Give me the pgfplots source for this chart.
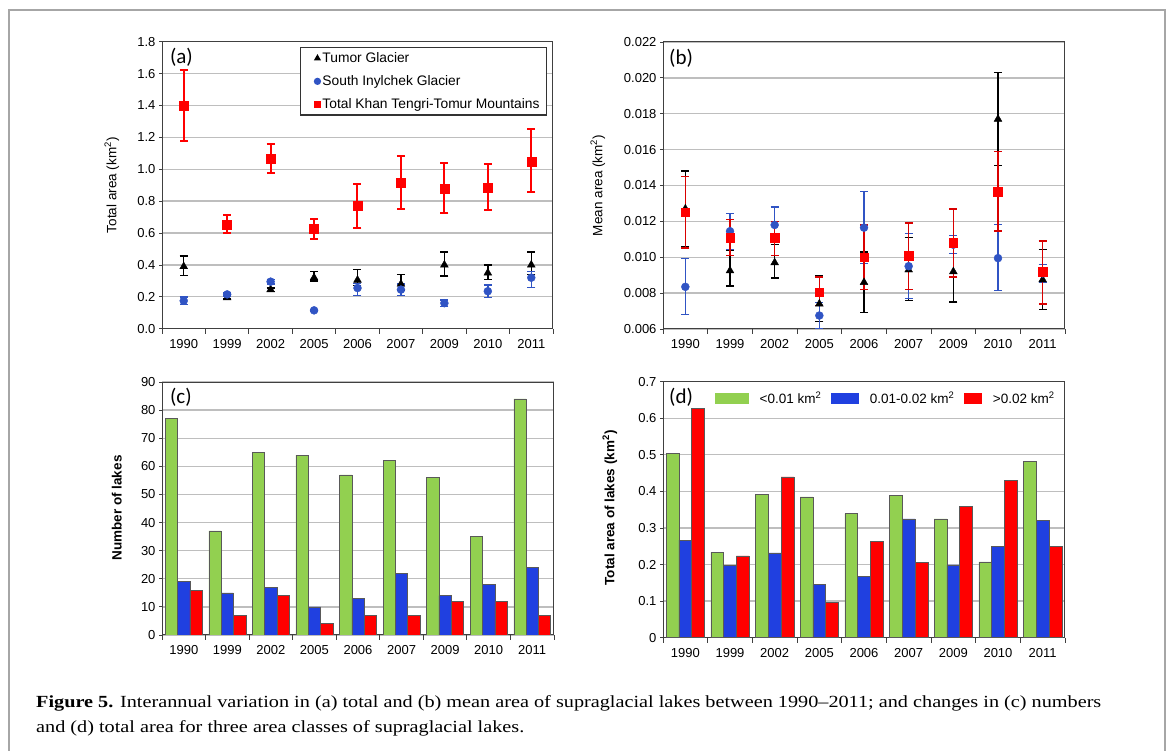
\documentclass[border=0pt]{standalone}
\usepackage{fontspec}
\setmainfont{Liberation Serif}
\newfontfamily\arial{Liberation Sans}
\newfontfamily\calibri{Carlito}
\newfontfamily\capfont[FakeStretch=1.19,Ligatures=TeX]{Liberation Serif}
\usepackage{pgfplots}
\usepackage{pgfplotstable}
\pgfplotsset{compat=1.18}
\definecolor{gbar}{RGB}{146,208,80}
\definecolor{bbar}{RGB}{32,64,224}
\definecolor{rbar}{RGB}{255,0,0}
\definecolor{cblue}{RGB}{48,84,196}
\definecolor{gridc}{RGB}{190,190,190}

% panel (a): total area
\pgfplotstableread{
x y ep em
0 0.39 0.065 0.055
1 0.195 0.01 0.01
2 0.245 0.01 0.01
3 0.32 0.04 0.02
4 0.305 0.065 0.035
5 0.28 0.06 0.04
6 0.40 0.08 0.07
7 0.35 0.05 0.04
8 0.40 0.08 0.06
}\aBlack
\pgfplotstableread{
x y ep em
0 0.175 0.025 0.025
1 0.215 0.01 0.01
2 0.295 0.015 0.015
3 0.115 0.005 0.005
4 0.255 0.03 0.045
5 0.245 0.035 0.035
6 0.16 0.02 0.02
7 0.235 0.04 0.04
8 0.32 0.04 0.06
}\aBlue
\pgfplotstableread{
x y ep em
0 1.40 0.22 0.225
1 0.655 0.06 0.055
2 1.065 0.095 0.09
3 0.625 0.065 0.065
4 0.77 0.14 0.14
5 0.915 0.17 0.165
6 0.88 0.16 0.155
7 0.885 0.145 0.14
8 1.05 0.205 0.195
}\aRed
% panel (b): mean area
\pgfplotstableread{
x y ep em
0 0.0127 0.0021 0.0021
1 0.00925 0.00115 0.00085
2 0.0097 0.001 0.00085
3 0.0074 0.0016 0.0010
4 0.0086 0.0017 0.0017
5 0.0093 0.0018 0.0017
6 0.0092 0.0017 0.0017
7 0.0177 0.0026 0.0026
8 0.00875 0.0017 0.00165
}\bBlack
\pgfplotstableread{
x y ep em
0 0.00835 0.0016 0.00155
1 0.01145 0.001 0.001
2 0.0118 0.001 0.001
3 0.00675 0.00075 0.00075
4 0.01165 0.002 0.002
5 0.0095 0.0018 0.0018
6 0.0107 0.0005 0.0005
7 0.00995 0.0019 0.0018
8 0.0091 0.0005 0.0005
}\bBlue
\pgfplotstableread{
x y ep em
0 0.0125 0.002 0.002
1 0.0111 0.001 0.001
2 0.0111 0.0009 0.001
3 0.00805 0.00085 0.00075
4 0.0100 0.0018 0.0018
5 0.0101 0.0018 0.0019
6 0.0108 0.0019 0.0019
7 0.01365 0.00225 0.0022
8 0.0092 0.0017 0.0018
}\bRed
% panel (c): number of lakes
\pgfplotstableread{
x small mid large
0 77 19 16
1 37 15 7
2 65 17 14
3 64 10 4
4 57 13 7
5 62 22 7
6 56 14 12
7 35 18 12
8 84 24 7
}\cData
% panel (d): total area of lakes
\pgfplotstableread{
x small mid large
0 0.503 0.267 0.628
1 0.234 0.198 0.224
2 0.392 0.232 0.440
3 0.385 0.146 0.096
4 0.339 0.167 0.263
5 0.389 0.325 0.205
6 0.325 0.199 0.359
7 0.207 0.249 0.430
8 0.482 0.320 0.250
}\dData

\pgfplotsset{
 panel/.style={
   scale only axis,
   xmin=-0.5, xmax=8.5,
   xtick={0,...,8},
   xticklabels={1990,1999,2002,2005,2006,2007,2009,2010,2011},
   minor xtick={-0.5,0.5,...,8.5},
   tick align=outside,
   tick pos=left,
   major x tick style={draw=none},
   ytick style={black!75, line width=0.8pt},
   minor tick style={black!75, line width=0.8pt},
   major tick length=3pt,
   minor tick length=5pt,
   ymajorgrids,
   major grid style={gridc, line width=1.3pt},
   axis line style={black!75, line width=1pt},
   tick label style={font=\arial\fontsize{13}{15}\selectfont},
   /pgf/number format/assume math mode=true,
   scaled y ticks=false,
   xticklabel style={yshift=-4pt},
 },
 ylab/.style n args={2}{every axis y label/.style={at={(axis description cs:#1,#2)},
   rotate=90, anchor=center, font=\arial\fontsize{13.5}{15}\selectfont}},
 ebar/.style={error bars/.cd, y dir=both, y explicit,
   error bar style={line width=#1},
   error mark options={rotate=90, mark size=4pt, line width=#1}},
}
\tikzset{plabel/.style={font=\calibri\fontsize{21}{21}\selectfont, anchor=west, inner sep=0pt}}

\begin{document}
\begin{tikzpicture}
\useasboundingbox (0,0) rectangle (1171pt,751pt);
\draw[black!35, line width=2pt] (9pt,-10pt) rectangle (1165pt,741pt);

% ---------- (a)
\begin{axis}[panel, at={(162pt,422.3pt)}, anchor=south west,
  width=391pt, height=287pt,
  ymin=0, ymax=1.8, ytick={0,0.2,0.4,0.6,0.8,1.0,1.2,1.4,1.6,1.8},
  yticklabel style={/pgf/number format/.cd, fixed, fixed zerofill, precision=1},
  ylabel={Total area (km\textsuperscript{2})},
  ylab={-0.128}{0.5},
  legend style={at={(axis description cs:0.985,0.9815)}, anchor=north east,
    draw=black!80, line width=1.2pt, fill=white,
    font=\arial\fontsize{13.8}{15}\selectfont, row sep=7.5pt,
    inner xsep=5pt, inner ysep=3pt},
  legend cell align=left,
  legend image code/.code={\path (-3pt,0pt); \draw[#1, mark size=3pt] plot coordinates {(8pt,0pt)};},
]
\addplot[only marks, mark=triangle*, mark size=4.5pt, black,
  ebar=1.4pt] table[x=x, y=y, y error plus=ep, y error minus=em] {\aBlack};
\addlegendentry{Tumor Glacier}
\addplot[only marks, mark=*, mark size=4pt, cblue,
  ebar=1.4pt] table[x=x, y=y, y error plus=ep, y error minus=em] {\aBlue};
\addlegendentry{South Inylchek Glacier}
\addplot[only marks, mark=square*, mark size=4.5pt, rbar,
  ebar=2pt] table[x=x, y=y, y error plus=ep, y error minus=em] {\aRed};
\addlegendentry{Total Khan Tengri-Tomur Mountains}
\node[plabel] at (axis description cs:0.02,0.947) {(a)};
\end{axis}

% ---------- (b)
\begin{axis}[panel, at={(663pt,422pt)}, anchor=south west,
  width=402pt, height=287pt,
  ymin=0.006, ymax=0.022,
  ytick={0.006,0.008,0.010,0.012,0.014,0.016,0.018,0.020,0.022},
  yticklabel style={/pgf/number format/.cd, fixed, fixed zerofill, precision=3},
  ylabel={Mean area (km\textsuperscript{2})},
  ylab={-0.162}{0.5},
]
\addplot[only marks, mark=triangle*, mark size=4.5pt, black,
  ebar=1.3pt] table[x=x, y=y, y error plus=ep, y error minus=em] {\bBlack};
\addplot[only marks, mark=*, mark size=4pt, cblue,
  ebar=1.1pt] table[x=x, y=y, y error plus=ep, y error minus=em] {\bBlue};
\addplot[only marks, mark=square*, mark size=4.3pt, rbar!85!black,
  mark options={fill=rbar, draw=rbar},
  ebar=1.6pt] table[x=x, y=y, y error plus=ep, y error minus=em] {\bRed};
\node[plabel] at (axis description cs:0.015,0.944) {(b)};
\end{axis}

% ---------- (c)
\begin{axis}[panel, at={(162pt,116pt)}, anchor=south west,
  width=392pt, height=253pt,
  ybar=0pt, bar width=12.3pt,
  ymin=0, ymax=90, ytick={0,10,20,30,40,50,60,70,80,90},
  ylabel={\bfseries Number of lakes},
  ylab={-0.115}{0.502},
]
\addplot[fill=gbar, draw=black!65, line width=0.5pt] table[x=x, y=small] {\cData};
\addplot[fill=bbar, draw=black!65, line width=0.5pt] table[x=x, y=mid] {\cData};
\addplot[fill=rbar, draw=black!65, line width=0.5pt] table[x=x, y=large] {\cData};
\node[plabel] at (axis description cs:0.02,0.94) {(c)};
\end{axis}

% ---------- (d)
\begin{axis}[panel, at={(663pt,113.3pt)}, anchor=south west,
  width=402pt, height=256pt,
  ybar=0pt, bar width=12.8pt,
  ymin=0, ymax=0.7, ytick={0,0.1,0.2,0.3,0.4,0.5,0.6,0.7},
  yticklabel style={/pgf/number format/.cd, fixed, precision=1},
  ylabel={\bfseries Total area of lakes (km\textsuperscript{2})},
  ylab={-0.132}{0.507},
  legend style={at={(axis description cs:0.122,0.936)}, anchor=west,
    draw=none, fill=none, legend columns=-1,
    font=\arial\fontsize{13.5}{15}\selectfont,
    /tikz/every even column/.append style={column sep=8pt}},
]
\addplot[fill=gbar, draw=black!65, line width=0.5pt,
  legend image code/.code={\fill[gbar] (0pt,-5pt) rectangle (33pt,5pt); \path (42pt,0pt);}]
  table[x=x, y=small] {\dData};
\addlegendentry{<0.01 km\textsuperscript{2}}
\addplot[fill=bbar, draw=black!65, line width=0.5pt,
  legend image code/.code={\fill[bbar] (0pt,-5pt) rectangle (27pt,5pt); \path (36pt,0pt);}]
  table[x=x, y=mid] {\dData};
\addlegendentry{0.01-0.02 km\textsuperscript{2}}
\addplot[fill=rbar, draw=black!65, line width=0.5pt,
  legend image code/.code={\fill[rbar] (0pt,-5pt) rectangle (17pt,5pt); \path (26pt,0pt);}]
  table[x=x, y=large] {\dData};
\addlegendentry{>0.02 km\textsuperscript{2}}
\node[plabel] at (axis description cs:0.015,0.94) {(d)};
\end{axis}

% ---------- caption
\node[anchor=base west, inner sep=0pt, font=\capfont\fontsize{17}{20}\selectfont] at (36pt,43pt)
 {\textbf{Figure 5.} Interannual variation in (a) total and (b) mean area of supraglacial lakes between 1990\textendash2011; and changes in (c) numbers};
\node[anchor=base west, inner sep=0pt, font=\capfont\fontsize{17}{20}\selectfont] at (36pt,18pt)
 {and (d) total area for three area classes of supraglacial lakes.};
\end{tikzpicture}
\end{document}
